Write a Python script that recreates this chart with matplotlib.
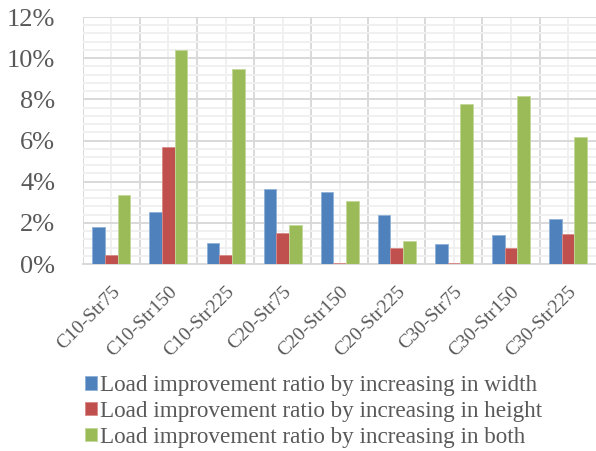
import numpy as np
import matplotlib.pyplot as plt
from matplotlib.ticker import MultipleLocator, FixedLocator, PercentFormatter
from matplotlib.transforms import ScaledTranslation

# ─── Data (%) ────────────────────────────────────────────────────────────────
cases  = ['C10-Str75', 'C10-Str150', 'C10-Str225',
          'C20-Str75', 'C20-Str150', 'C20-Str225',
          'C30-Str75', 'C30-Str150', 'C30-Str225']
width  = [1.78, 2.54, 1.00, 3.66, 3.48, 2.39, 0.95, 1.41, 2.17]
height = [0.44, 5.68, 0.44, 1.50, 0.06, 0.78, 0.06, 0.78, 1.46]
both   = [3.33, 10.42, 9.48, 1.88, 3.04, 1.10, 7.75, 8.17, 6.17]

labels = ['Load improvement ratio by increasing in width',
          'Load improvement ratio by increasing in height',
          'Load improvement ratio by increasing in both']
colors = ['#4F81BD', '#C0504D', '#9BBB59']
edges  = ['#8FB0D8', '#D88A88', '#C3D89A']

plt.rcParams['font.family'] = ['Liberation Serif', 'DejaVu Serif']
txt = '#595959'

fig = plt.figure(figsize=(5.96, 4.51), dpi=100)
ax = fig.add_axes([0.139, 0.4146, 0.862, 0.5477])

x = np.arange(len(cases))
bw = 0.222
for k, (vals, c, e, lab) in enumerate(zip([width, height, both], colors, edges, labels)):
    ax.bar(x + (k - 1) * bw, vals, bw, color=c, edgecolor=e, linewidth=0.6,
           label=lab, zorder=3)

ax.set_xlim(-0.5, len(cases) - 0.5)
ax.set_ylim(0, 12)

# gridlines: dark at category boundaries and every 2%, light in between
ax.yaxis.set_major_locator(MultipleLocator(2))
ax.yaxis.set_minor_locator(MultipleLocator(0.4))
ax.yaxis.set_major_formatter(PercentFormatter(decimals=0))
ax.xaxis.set_major_locator(FixedLocator(x))
ax.xaxis.set_minor_locator(FixedLocator(np.arange(-0.5, len(cases), 1.0)))
ax.yaxis.grid(True, which='minor', color='#F0F0F0', lw=1.4, zorder=0)
ax.xaxis.grid(True, which='major', color='#F0F0F0', lw=1.4, zorder=0)
ax.yaxis.grid(True, which='major', color='#D9D9D9', lw=1.4, zorder=1)
ax.xaxis.grid(True, which='minor', color='#D9D9D9', lw=1.4, zorder=1)

ax.set_xticklabels(cases, rotation=45, ha='right', rotation_mode='anchor',
                   fontsize=14, color=txt)
shift = ScaledTranslation(-4 / 100, 0, fig.dpi_scale_trans)
for lbl in ax.get_xticklabels():
    lbl.set_transform(lbl.get_transform() + shift)
ax.tick_params(axis='x', which='both', length=0, pad=14)
ax.tick_params(axis='y', which='both', length=0, pad=20, labelsize=19,
               labelcolor=txt)

for s in ['top', 'right', 'left']:
    ax.spines[s].set_visible(False)
ax.spines['bottom'].set_color('#D9D9D9')
ax.spines['bottom'].set_linewidth(1.4)

fig.legend(loc='upper left', bbox_to_anchor=(0.1426, 0.168), frameon=False,
           fontsize=16.7, labelcolor=txt, handlelength=0.5, handleheight=0.5,
           handletextpad=0.15, labelspacing=0.2, borderpad=0, borderaxespad=0)

fig.savefig('out.png', dpi=100)
